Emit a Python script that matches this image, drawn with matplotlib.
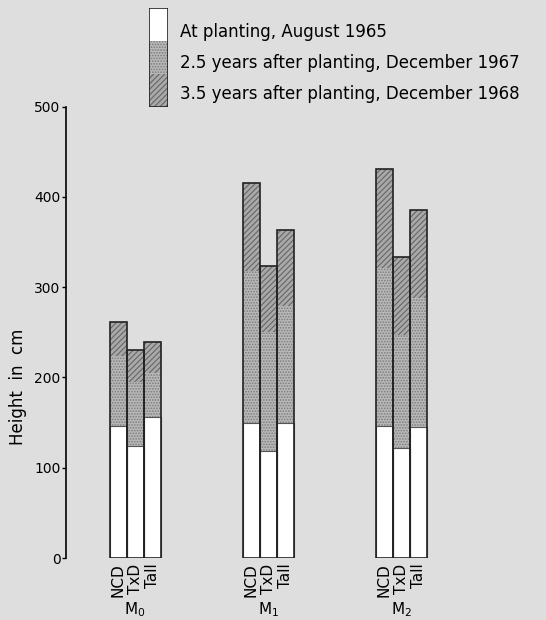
import numpy as np
import matplotlib.pyplot as plt
from matplotlib.patches import Rectangle

# --------------------------------------- Data -------------------------------------
groups = ['M$_0$', 'M$_1$', 'M$_2$']
types = ['NCD', 'TxD', 'Tall']
stages = ['At planting, August 1965',
          '2.5 years after planting, December 1967',
          '3.5 years after planting, December 1968']

# height in cm at each stage, per group, per type (NCD, TxD, Tall)
at_planting = [[146, 124, 156], [150, 119, 149], [146, 122, 145]]
after_2_5 = [[224, 195, 205], [318, 250, 279], [321, 247, 288]]
after_3_5 = [[261, 230, 239], [415, 324, 363], [431, 333, 385]]

# --------------------------------------- Style -------------------------------------
bg = '#dedede'
faces = ['white', '#b8b8b8', '#a9a9a9']
hatches = [None, '......', '//////']
hatch_cols = ['white', '#7c7c7c', '#666666']

plt.rcParams['hatch.linewidth'] = 0.8

fig = plt.figure(figsize=(5.46, 6.2), dpi=100, facecolor=bg)
ax = fig.add_axes([0.121, 0.1, 0.879, 0.728], facecolor=bg)

w = 0.128
x_groups = np.arange(len(groups))
offsets = (np.arange(len(types)) - 1) * w

levels = [np.array(at_planting), np.array(after_2_5), np.array(after_3_5)]
tick_pos, tick_lab = [], []
for gi, gx in enumerate(x_groups):
    xs = gx + offsets
    bottom = np.zeros(len(types))
    for si, lev in enumerate(levels):
        h = lev[gi] - bottom
        ax.bar(xs, h, bottom=bottom, width=w, color=faces[si],
               edgecolor=hatch_cols[si], hatch=hatches[si], linewidth=0, zorder=2)
        if si == 0:
            # faint line between planting and later growth
            ax.bar(xs, h, bottom=bottom, width=w, fill=False,
                   edgecolor='#555555', linewidth=0.8, zorder=3)
        bottom = lev[gi].astype(float)
    # outline of the whole bar
    ax.bar(xs, levels[-1][gi], width=w, fill=False, edgecolor='#222222',
           linewidth=1.2, zorder=4)
    tick_pos += list(xs)
    tick_lab += types
    ax.text(gx, -0.115, groups[gi], transform=ax.get_xaxis_transform(),
            ha='center', va='center', fontsize=11)

ax.set_xlim(-0.52, 3.09)
ax.set_ylim(0, 500)
ax.set_xticks(tick_pos)
ax.set_xticklabels(tick_lab, rotation=90, fontsize=11)
ax.tick_params(axis='x', length=0, pad=4)
ax.set_yticks([0, 100, 200, 300, 400, 500])
ax.tick_params(axis='y', direction='out', length=3, pad=1, labelsize=10, width=1)
ax.set_ylabel('Height  in  cm', fontsize=12)
ax.yaxis.set_label_coords(-0.082, 0.38)

for s in ['top', 'right', 'bottom']:
    ax.spines[s].set_visible(False)
ax.spines['left'].set_linewidth(1.2)

# --------------------------------------- Legend -------------------------------------
lax = fig.add_axes([149 / 546, 1 - 107 / 620, 19 / 546, 99 / 620])
lax.set_xlim(0, 1)
lax.set_ylim(0, 3)
lax.axis('off')
for i in range(3):
    y0 = 2 - i
    lax.add_patch(Rectangle((0, y0), 1, 1, facecolor=faces[i], edgecolor=hatch_cols[i],
                            hatch=hatches[i], linewidth=0))
lax.add_patch(Rectangle((0, 0), 1, 3, fill=False, edgecolor='#222222', linewidth=1.2))

for i, lab in enumerate(stages):
    fig.text(180 / 546, 1 - (32 + 31 * i) / 620, lab, fontsize=12, va='center', ha='left')

fig.savefig('out.png', dpi=100, facecolor=bg)
